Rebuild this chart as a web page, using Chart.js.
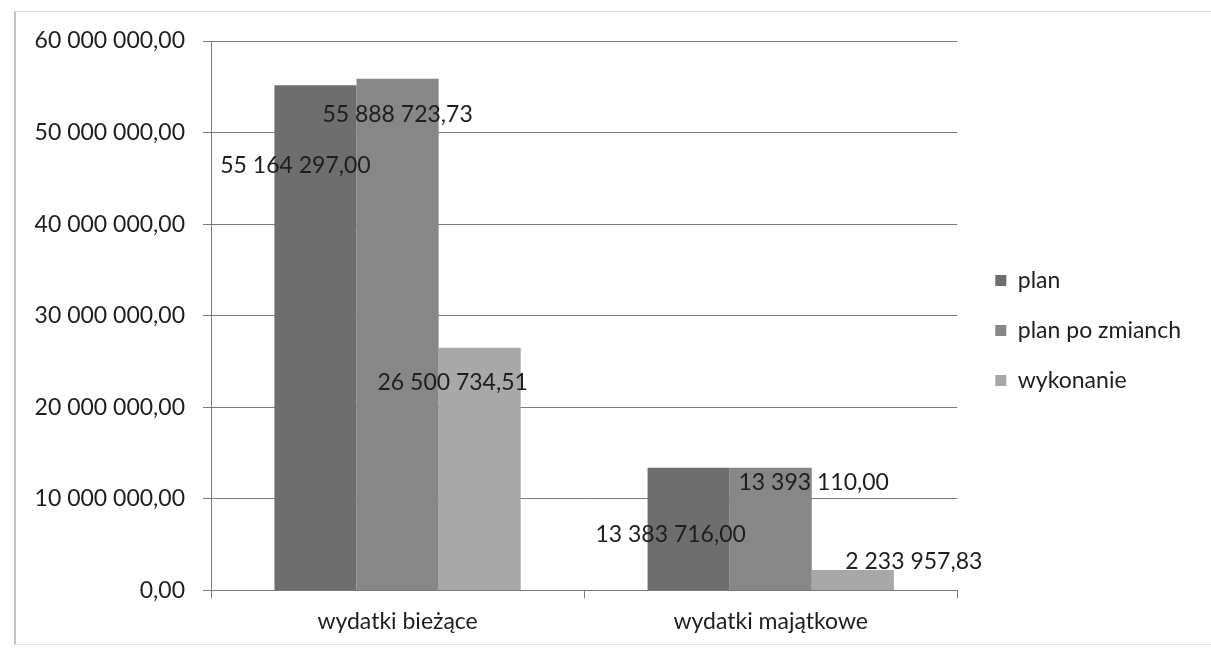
<!DOCTYPE html>
<html>
<head>
<meta charset="utf-8">
<script src="https://cdn.jsdelivr.net/npm/chart.js@4"></script>
<style>
  html, body { margin: 0; padding: 0; background: #fff; }
  #wrap { position: relative; width: 1211px; height: 648px; }
  #frame { position: absolute; left: 14px; top: 11px; width: 1197px; height: 634px; border-left: 2px solid #c4c4c4; border-top: 1px solid #d6d6d6; border-bottom: 1px solid #e6e6e6; box-sizing: border-box; }
  canvas { position: absolute; left: 0; top: 0; }
</style>
</head>
<body>
<div id="wrap">
  <div id="frame"></div>
  <canvas id="budgetChart" width="1211" height="648"></canvas>
</div>
<script>
// data
const categories = ["wydatki bieżące", "wydatki majątkowe"];
const seriesNames = ["plan", "plan po zmianch", "wykonanie"];
const planValues = [55164297.00, 13383716.00];
const planAfterValues = [55888723.73, 13393110.00];
const doneValues = [26500734.51, 2233957.83];
const yTicks = [0, 10000000, 20000000, 30000000, 40000000, 50000000, 60000000];

// label offsets from bar top centre (px), the labels were moved around in the original
const labelShiftX = [[-20, -18], [0, 43], [-27, 61]];
const labelShiftY = [[80, 67], [36, 15], [35, -8]];

const barColors = ["#6e6e6e", "#878787", "#a8a8a8"];
const fontFamily = "Lato, 'Open Sans', sans-serif";
const fontSize = 23;
const legendShiftX = 11;
const legendShiftY = -12;

// polish style number: 60 000 000,00
function fmt(v) {
  const parts = v.toFixed(2).split(".");
  const intPart = parts[0].replace(/\B(?=(\d{3})+(?!\d))/g, " ");
  return intPart + "," + parts[1];
}

const barLabels = {
  id: "barLabels",
  afterDatasetsDraw(chart) {
    const c = chart.ctx;
    c.save();
    c.font = fontSize + "px " + fontFamily;
    c.fillStyle = "#1e1e1e";
    c.textAlign = "center";
    c.textBaseline = "middle";
    chart.data.datasets.forEach((ds, i) => {
      const meta = chart.getDatasetMeta(i);
      meta.data.forEach((bar, j) => {
        c.fillText(fmt(ds.data[j]), bar.x + labelShiftX[i][j], bar.y + labelShiftY[i][j]);
      });
    });
    c.restore();
  }
};

// push the legend a bit away from the plot
const moveLegend = {
  id: "moveLegend",
  afterLayout(chart) {
    chart.legend.left += legendShiftX;
    chart.legend.right += legendShiftX;
    chart.legend.top += legendShiftY;
    chart.legend.bottom += legendShiftY;
  }
};

const ctx = document.getElementById("budgetChart").getContext("2d");
const chart = new Chart(ctx, {
  type: "bar",
  data: {
    labels: categories,
    datasets: [
      { label: seriesNames[0], data: planValues, backgroundColor: barColors[0] },
      { label: seriesNames[1], data: planAfterValues, backgroundColor: barColors[1] },
      { label: seriesNames[2], data: doneValues, backgroundColor: barColors[2] }
    ]
  },
  options: {
    responsive: false,
    animation: false,
    categoryPercentage: 0.66,
    barPercentage: 1.0,
    layout: { padding: { left: 0, top: 41, right: 31, bottom: 4 } },
    plugins: {
      tooltip: { enabled: false },
      legend: {
        position: "right",
        labels: {
          boxWidth: 11,
          boxHeight: 11,
          padding: 27,
          color: "#1e1e1e",
          font: { family: fontFamily, size: fontSize }
        }
      }
    },
    scales: {
      x: {
        grid: { drawOnChartArea: false, drawTicks: true, tickLength: 8, color: "#7a7a7a" },
        border: { color: "#7a7a7a" },
        ticks: { color: "#1e1e1e", padding: 9, font: { family: fontFamily, size: fontSize } }
      },
      y: {
        min: 0,
        max: 60000000,
        afterFit(scale) { scale.width = 211; },
        afterBuildTicks(scale) { scale.ticks = yTicks.map(v => ({ value: v })); },
        grid: { color: "#7a7a7a", tickLength: 8 },
        border: { color: "#7a7a7a" },
        ticks: {
          color: "#1e1e1e",
          padding: 18,
          font: { family: fontFamily, size: fontSize },
          callback: v => fmt(v)
        }
      }
    }
  },
  plugins: [barLabels, moveLegend]
});
</script>
</body>
</html>
